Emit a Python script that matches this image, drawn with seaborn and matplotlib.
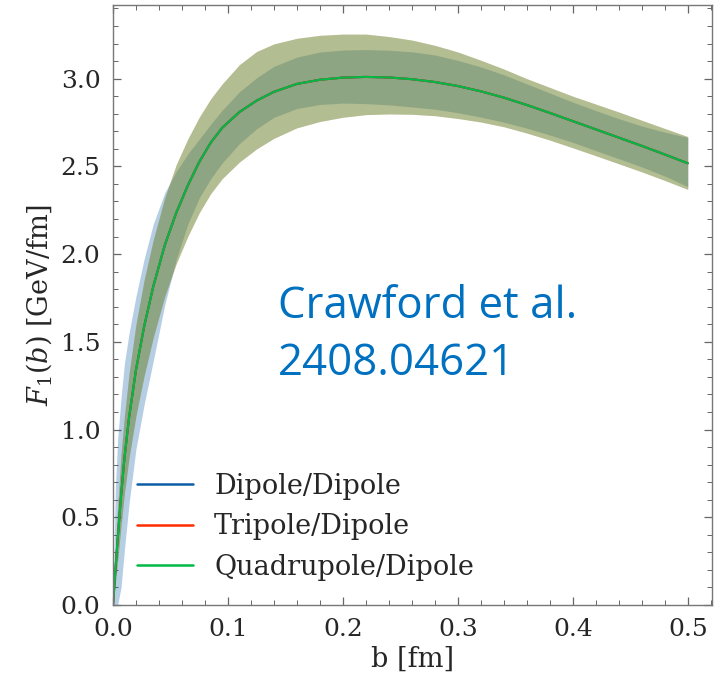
import numpy as np
import pandas as pd
import matplotlib
matplotlib.use("Agg")
import matplotlib.pyplot as plt
import seaborn as sns
from matplotlib.ticker import MultipleLocator

# ---- data ----
b_fm = [0.0, 0.002, 0.004, 0.007, 0.01, 0.014, 0.02, 0.027, 0.035, 0.045,
        0.055, 0.065, 0.075, 0.085, 0.095, 0.11, 0.125, 0.14, 0.16, 0.18,
        0.20, 0.22, 0.24, 0.26, 0.28, 0.30, 0.32, 0.34, 0.36, 0.38,
        0.40, 0.42, 0.44, 0.46, 0.48, 0.50]

central = [0.0, 0.19, 0.37, 0.62, 0.84, 1.07, 1.34, 1.585, 1.815, 2.05,
           2.235, 2.39, 2.525, 2.635, 2.72, 2.81, 2.875, 2.925, 2.97, 2.994,
           3.006, 3.01, 3.007, 2.997, 2.981, 2.958, 2.928, 2.892, 2.85, 2.805,
           2.758, 2.711, 2.664, 2.617, 2.568, 2.518]

# Dipole/Dipole band
dd_upper = [0.0, 0.65, 0.94, 1.18, 1.38, 1.55, 1.76, 1.97, 2.17, 2.35,
            2.47, 2.57, 2.655, 2.74, 2.82, 2.925, 3.005, 3.07, 3.123, 3.152,
            3.163, 3.166, 3.162, 3.153, 3.135, 3.104, 3.067, 3.022, 2.97, 2.918,
            2.866, 2.818, 2.772, 2.73, 2.695, 2.665]
dd_lower = [0.0, 0.0, 0.0, 0.1, 0.32, 0.58, 0.89, 1.14, 1.39, 1.71,
            1.97, 2.17, 2.32, 2.43, 2.52, 2.63, 2.715, 2.78, 2.83, 2.853,
            2.861, 2.858, 2.851, 2.839, 2.826, 2.806, 2.781, 2.752, 2.718, 2.679,
            2.637, 2.59, 2.544, 2.497, 2.445, 2.385]

# Tripole/Dipole and Quadrupole/Dipole bands (coincide)
tq_upper = [0.0, 0.3, 0.55, 0.86, 1.08, 1.32, 1.60, 1.85, 2.08, 2.32,
            2.51, 2.655, 2.78, 2.885, 2.97, 3.08, 3.155, 3.198, 3.23, 3.247,
            3.254, 3.254, 3.24, 3.22, 3.19, 3.152, 3.105, 3.055, 3.00, 2.95,
            2.90, 2.855, 2.81, 2.763, 2.716, 2.67]
tq_lower = [0.0, 0.12, 0.25, 0.45, 0.64, 0.84, 1.08, 1.305, 1.525, 1.76,
            1.945, 2.10, 2.235, 2.345, 2.43, 2.525, 2.60, 2.66, 2.72, 2.756,
            2.78, 2.795, 2.799, 2.797, 2.789, 2.773, 2.753, 2.726, 2.69, 2.65,
            2.606, 2.561, 2.515, 2.469, 2.42, 2.369]

series_names = ["Dipole/Dipole", "Tripole/Dipole", "Quadrupole/Dipole"]
series_colors = ["#0C5DA5", "#FF2C00", "#00B945"]
x_ticks = [0.0, 0.1, 0.2, 0.3, 0.4, 0.5]
y_ticks = [0.0, 0.5, 1.0, 1.5, 2.0, 2.5, 3.0]

bands = {
    "Dipole/Dipole": (dd_lower, dd_upper),
    "Tripole/Dipole": (tq_lower, tq_upper),
    "Quadrupole/Dipole": (tq_lower, tq_upper),
}

sns.set_theme(style="ticks")
plt.rcParams["font.family"] = ["DejaVu Serif"]
plt.rcParams["mathtext.fontset"] = "dejavuserif"

fig = plt.figure(figsize=(7.22, 6.73), dpi=100)
ax = fig.add_axes([0.1565, 0.101, 0.8295, 0.8916])

for name, col in zip(series_names, series_colors):
    lo, hi = bands[name]
    ax.fill_between(b_fm, lo, hi, color=col, alpha=0.3, linewidth=0)
    df = pd.DataFrame({"b": b_fm, "F": central})
    sns.lineplot(data=df, x="b", y="F", color=col, linewidth=1.5, label=name, ax=ax)

ax.set_xlim(0, 0.521)
ax.set_ylim(0, 3.42)
ax.set_xticks(x_ticks)
ax.set_yticks(y_ticks)
ax.xaxis.set_minor_locator(MultipleLocator(0.02))
ax.yaxis.set_minor_locator(MultipleLocator(0.1))
ax.set_xticklabels([f"{v:.1f}" for v in x_ticks])
ax.set_yticklabels([f"{v:.1f}" for v in y_ticks])
ax.tick_params(which="both", direction="in", top=True, right=True, color="#666666")
ax.tick_params(which="major", length=6, width=0.9, labelsize=18, pad=9)
ax.tick_params(which="minor", length=3.5, width=0.7)
for sp in ax.spines.values():
    sp.set_color("#777777")
    sp.set_linewidth(1.0)

ax.set_xlabel("b [fm]", fontsize=19.5, labelpad=4)
ax.set_ylabel(r"$F_1(b)$ [GeV/fm]", fontsize=19.5, labelpad=5)

leg = ax.legend(loc="lower left", bbox_to_anchor=(0.0, 0.0), frameon=False,
                fontsize=19.5, handlelength=2.05, handletextpad=0.78,
                labelspacing=0.5, borderaxespad=0.5)
for h in leg.get_lines():
    h.set_linewidth(1.8)

ax.text(0.2755, 0.478, "Crawford et al.", transform=ax.transAxes,
        fontsize=31.5, color="#0070C0", family=["Open Sans", "DejaVu Sans"])
ax.text(0.2755, 0.383, "2408.04621", transform=ax.transAxes,
        fontsize=31.5, color="#0070C0", family=["Open Sans", "DejaVu Sans"])

fig.savefig("out.png", dpi=100, facecolor="white")
